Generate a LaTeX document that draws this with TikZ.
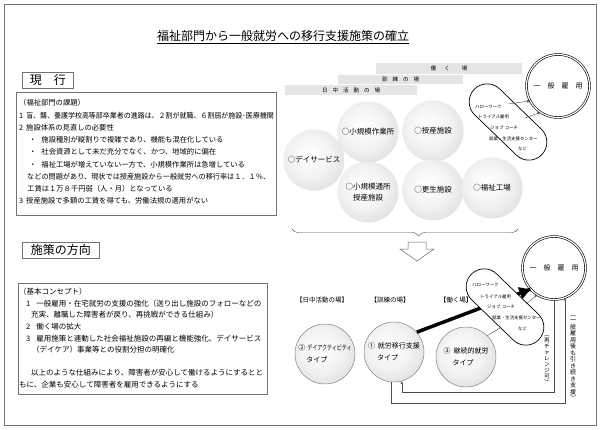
\documentclass[tikz,border=0pt]{standalone}
\usepackage{fontspec}
\setmainfont{Noto Sans CJK JP}
\usepackage{graphicx}
\usetikzlibrary{arrows.meta,shapes.misc,decorations.pathreplacing,calc}
\pgfdeclareradialshading{softball}{\pgfpoint{-5bp}{5bp}}{color(0bp)=(white); color(18bp)=(white!95!black); color(44bp)=(white!80!black); color(62bp)=(white!77!black)}
\newcommand\myfs[2]{\fontsize{#1}{#2}\selectfont}
\begin{document}
\begin{tikzpicture}[x=1pt,y=-1pt,
  frame/.style={draw=black!55, line width=0.8pt},
  panel/.style={draw=black!55, line width=0.6pt, inner sep=0pt, anchor=north west},
  headbox/.style={draw=black!55, line width=0.6pt, inner sep=0pt, anchor=north west, minimum height=16pt, font=\myfs{12}{12}},
  bodytext/.style={inner sep=0pt, anchor=north west, align=left},
  band/.style={fill=black!10, inner sep=0pt, anchor=north west, font=\myfs{5.5}{5.5}},
  topball/.style={circle, shade, shading=softball, inner sep=0pt, minimum size=61pt, font=\myfs{7.5}{11}, align=center},
  botball/.style={circle, shade, shading=softball, draw=black!50, line width=0.5pt, inner sep=0pt, minimum size=60pt, font=\myfs{7}{12}, align=left},
  goal/.style={circle, draw=black, line width=0.6pt, double=white, double distance=1.2pt, minimum size=63pt, inner sep=0pt, font=\myfs{7}{7}},
  pill/.style={rounded rectangle, draw=black, line width=0.7pt, fill=white, minimum width=94pt, minimum height=36pt, inner sep=0pt},
  pilltext/.style={inner sep=0pt, anchor=west, font=\myfs{4.4}{4.4}},
  thinline/.style={draw=black!70, line width=0.4pt},
  thinarrow/.style={draw=black!70, line width=0.4pt, -{Stealth[length=3pt,width=2.6pt]}},
  bigarrow/.style={line width=3.5pt, -{Triangle[length=11pt,width=12pt]}},
  place/.style={inner sep=0pt, font=\myfs{6.5}{6.5}},
  vtext/.style={inner sep=0pt, align=center}
]
\useasboundingbox (0,0) rectangle (600,429);
\fill[white] (0,0) rectangle (600,429);
\draw[frame] (4,4) rectangle (596,425);

% title
\node[inner sep=0pt, font=\myfs{12}{12}] (title) at (283,36) {福祉部門から一般就労への移行支援施策の確立};
\draw[line width=0.6pt] ([yshift=-1.5pt]title.south west) -- ([yshift=-1.5pt]title.south east);

% left headings and panels
\node[headbox, minimum width=51pt] (h1) at (22,72) {現　行};
\node[panel, minimum width=260pt, minimum height=123pt] (p1) at (16,92) {};
\node[bodytext, font=\myfs{7.3}{12.25}] (t1) at (19,99.4) {%
（福祉部門の課題）\\
1\hspace{3pt}\scalebox{0.955}[1]{盲、聾、養護学校高等部卒業者の進路は、２割が就職、６割弱が施設･医療機関}\\
2\hspace{3pt}施設体系の見直しの必要性\\
\hspace*{10pt}・\hspace{5pt}施設種別が縦割りで複雑であり、機能も混在化している\\
\hspace*{10pt}・\hspace{5pt}社会資源として未だ充分でなく、かつ、地域的に偏在\\
\hspace*{10pt}・\hspace{5pt}福祉工場が増えていない一方で、小規模作業所は急増している\\
\hspace*{8pt}\scalebox{0.98}[1]{などの問題があり、現状では授産施設から一般就労への移行率は１．１％、}\\
\hspace*{8pt}工賃は１万８千円弱（人・月）となっている\\
3\hspace{3pt}授産施設で多額の工賃を得ても、労働法規の適用がない};

\node[headbox, minimum width=77pt] (h2) at (22,242) {施策の方向};
\node[panel, minimum width=249pt, minimum height=111pt] (p2) at (18,283) {};
\node[bodytext, font=\myfs{7.5}{11.6}] (t2) at (19,288) {%
（基本コンセプト）\\
\hspace*{7pt}1\hspace{6pt}一般雇用・在宅就労の支援の強化（送り出し施設のフォローなどの\\
\hspace*{12pt}充実、離職した障害者が戻り、再挑戦ができる仕組み）\\
\hspace*{7pt}2\hspace{6pt}働く場の拡大\\
\hspace*{7pt}3\hspace{6pt}雇用施策と連動した社会福祉施設の再編と機能強化、デイサービス\\
\hspace*{13pt}（デイケア）事業等との役割分担の明確化\\
\mbox{}\\
\hspace*{12pt}以上のような仕組みにより、障害者が安心して働けるようにするとと\\
もに、企業も安心して障害者を雇用できるようにする};

% top right: bands
\node[band, minimum width=146pt, minimum height=11pt] (bw) at (376,63) {働\hskip8pt く\hskip12pt 場};
\node[band, minimum width=125pt, minimum height=9pt] (bk) at (338,75) {訓\hskip5pt 練\hskip5pt の\hskip5pt 場};
\node[band, minimum width=132pt, minimum height=10pt] (bn) at (285,85) {日\hskip5pt 中\hskip5pt 活\hskip5pt 動\hskip5pt の\hskip5pt 場};

% top circles
\node[topball] (ds) at (314,160) {○デイサービス};
\node[topball] (sk) at (368,132) {○小規模作業所};
\node[topball] (js) at (433,131) {○授産施設};
\node[topball] (st) at (368,192) {○小規模通所\\授産施設};
\node[topball] (ks) at (433,190) {○更生施設};
\node[topball] (fk) at (492,188) {○福祉工場};

% top support pill
\node[pill, rotate=-44] (pt) at (508,122) {};
\node[pilltext] (pt1) at (475,107) {ハローワーク};
\node[pilltext] (pt2) at (478,117) {トライアル雇用};
\node[pilltext] (pt3) at (490,128) {ジョブ\hspace{1.5pt}コーチ};
\node[pilltext] (pt4) at (489,139) {就業・生活支援センター};
\node[pilltext] (pt5) at (518,149) {など};

% top goal
\node[goal] (g1) at (558,86) {一\hskip7pt 般\hskip7pt 雇\hskip7pt 用};
\coordinate (pa1) at (508,104);
\coordinate (pa2) at (525,118);
\draw[thinarrow] (pa1) -- (g1.208);
\draw[thinarrow] (pa2) -- (g1.236);

% brace and hollow arrow
\coordinate (bl) at (292,229);
\coordinate (br) at (518,229);
\draw[thinline, decorate, decoration={brace, amplitude=7pt, aspect=0.56, mirror}] (bl) -- (br);
\draw[draw=black!60, fill=white, line width=0.5pt] (408,242) -- (426,242) -- (426,249) -- (434,249) -- (417,261) -- (400,249) -- (408,249) -- cycle;

% bottom section
\node[place] (l2) at (322,300) {【日中活動の場】};
\node[place] (l1) at (390,300) {【訓練の場】};
\node[place] (l3) at (456,300) {【働く場】};

\node[botball] (c2) at (325,354) {②\hspace{2pt}\scalebox{0.72}[1]{デイアクティビティ}\\\hspace*{8pt}タイプ};
\node[botball] (c1) at (394,352) {①\hspace{3pt}就労移行支援\\\hspace*{9pt}タイプ};
\node[botball] (c3) at (466,357) {③\hspace{3pt}継続的就労\\\hspace*{9pt}タイプ};

\node[goal] (g2) at (554,268) {一\hskip7pt 般\hskip7pt 雇\hskip7pt 用};

\draw[line width=3.5pt] (c1.41) -- (g2.222);

\node[pill, rotate=-44] (pb) at (505,307) {};
\node[pilltext] (pb1) at (472,285) {ハローワーク};
\node[pilltext] (pb2) at (480,297) {トライアル雇用};
\node[pilltext] (pb3) at (487,307) {ジョブ\hspace{1.5pt}コーチ};
\node[pilltext] (pb4) at (492,318) {就業・生活支援センター};
\node[pilltext] (pb5) at (518,329) {など};

\draw[bigarrow] ($(c1.41)!0.9!(g2.222)$) -- (g2.222);

\coordinate (pbc) at (500,328);
\draw[thinline] (c3.45) -- (pbc);
\coordinate (pbt) at (526,304);
\draw[thinarrow] (pbt) -- (g2.238);

% return loops
\coordinate (r1) at (0,392);
\coordinate (r2) at (0,403);
\draw[thinarrow] (g2.south) -- (g2.south |- r1) -| (c1.-75);
\draw[thinarrow] (c1.-95) -- (c1.-95 |- r2) -| (g2.-70);

% vertical labels
\node[vtext, font=\myfs{5.6}{5.9}] (v1) at (547,360) {︵\\再\\チ\\ャ\\レ\\ン\\ジ\\可\\︶};
\node[vtext, font=\myfs{6}{6.5}] (v2) at (573,358) {︵\\一\\般\\雇\\用\\後\\も\\引\\き\\続\\き\\支\\援\\︶};
\end{tikzpicture}
\end{document}
